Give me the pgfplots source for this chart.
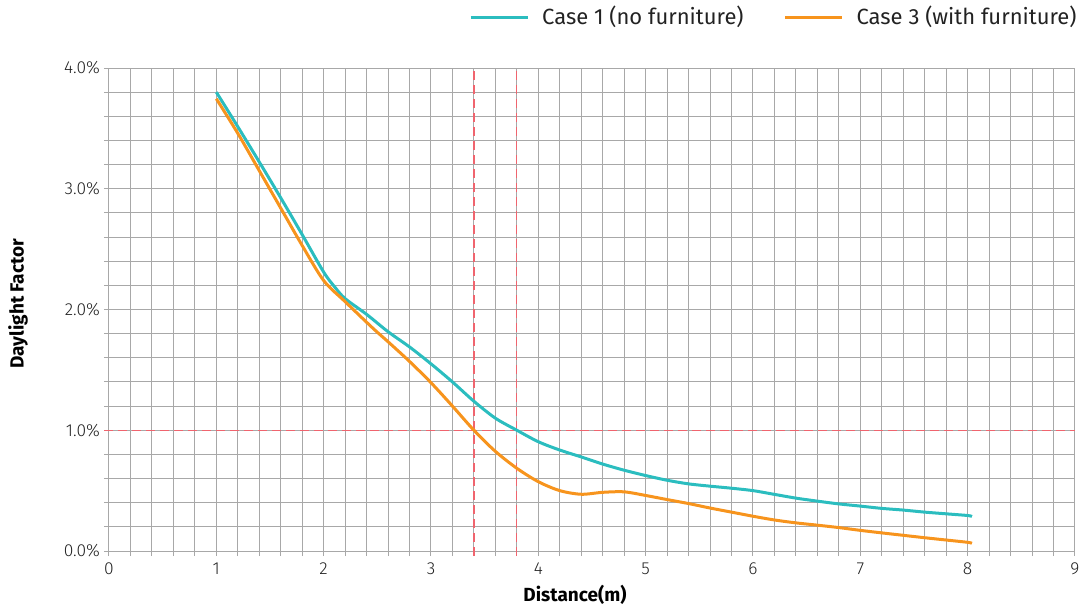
\documentclass[border=0pt]{standalone}
\usepackage{pgfplots}
\pgfplotsset{compat=1.18}
\usepackage{fontspec}
\setmainfont{Fira Sans}
\newfontfamily\lightfont{Fira Sans Light}
\definecolor{tealc}{HTML}{2BBDBF}
\definecolor{orngc}{HTML}{F7941D}
\definecolor{gridc}{HTML}{A8A8A8}
\definecolor{refred}{HTML}{F0646E}
\definecolor{txt}{HTML}{222222}

\begin{document}
\begin{tikzpicture}
\path[use as bounding box] (-54.5pt,-28pt) rectangle (490.5pt,275.5pt);
\begin{axis}[
  at={(0,0)}, anchor=south west,
  scale only axis, width=483pt, height=241.5pt,
  xmin=0, xmax=9, ymin=0, ymax=4,
  clip=false,
  xtick={0,1,...,9}, ytick={0,1,2,3,4},
  minor x tick num=4, minor y tick num=4,
  grid=both,
  major grid style={gridc, line width=0.5pt},
  minor grid style={gridc, line width=0.5pt},
  every tick/.style={gridc, line width=0.5pt},
  tick align=outside,
  major tick length=2.5pt, minor tick length=2.5pt,
  xtick pos=left, ytick pos=left,
  axis line style={gridc, line width=0.5pt},
  /pgf/number format/assume math mode=true,
  tick label style={font=\lightfont\fontsize{8.7}{10}\selectfont, text=txt},
  yticklabel style={xshift=1.5pt},
  yticklabel={\pgfmathprintnumber[fixed,fixed zerofill,precision=1]{\tick}\%},
  xlabel={Distance(m)},
  ylabel={Daylight Factor},
  label style={font=\bfseries\fontsize{9.5}{11}\selectfont, text=black},
  xlabel style={at={(axis description cs:0.4824,-0.091)}, anchor=center},
  ylabel style={at={(axis description cs:-0.0942,0.512)}, anchor=center},
  legend columns=2,
  legend style={at={(1,1)}, anchor=east, yshift=25.5pt, xshift=6pt, draw=none, fill=none,
    font=\fontsize{11}{13}\selectfont, text=txt,
    /tikz/every even column/.append style={column sep=18pt}},
  legend cell align=left,
  legend image code/.code={\draw[#1] (0pt,0pt) -- (28.5pt,0pt); \path (33pt,0pt);},
]
\addplot[refred, line width=0.6pt, dash pattern=on 4.5pt off 2.5pt, forget plot] coordinates {(3.4,-0.04) (3.4,4)};
\addplot[refred, line width=0.6pt, dash pattern=on 4.5pt off 2.5pt, forget plot] coordinates {(3.8,-0.04) (3.8,4)};
\addplot[refred, line width=0.6pt, dash pattern=on 4.5pt off 2.5pt, forget plot] coordinates {(-0.045,1) (9,1)};

\addplot[tealc, line width=1.5pt, smooth] coordinates {
(1.0,3.80) (1.2,3.514) (1.4,3.222) (1.6,2.925) (1.8,2.62) (2.0,2.31) (2.1,2.19) (2.2,2.09)
(2.4,1.96) (2.6,1.816) (2.8,1.69) (3.0,1.55) (3.2,1.40) (3.4,1.24) (3.6,1.10)
(3.8,1.0) (4.0,0.905) (4.2,0.836) (4.4,0.779) (4.6,0.72) (4.8,0.669) (5.0,0.625)
(5.2,0.586) (5.4,0.556) (5.6,0.537) (5.8,0.52) (6.0,0.50) (6.2,0.469) (6.4,0.438)
(6.6,0.413) (6.8,0.39) (7.0,0.372) (7.2,0.353) (7.4,0.339) (7.6,0.322) (7.8,0.308)
(8.0,0.294) (8.04,0.286)};
\addlegendentry{Case 1 (no furniture)}

\addplot[orngc, line width=1.5pt, smooth] coordinates {
(1.0,3.745) (1.2,3.459) (1.4,3.15) (1.6,2.84) (1.8,2.53) (2.0,2.24) (2.2,2.065) (2.46,1.844)
(2.6,1.733) (2.8,1.57) (3.0,1.394) (3.2,1.2) (3.4,1.0) (3.6,0.825) (3.8,0.685)
(4.0,0.574) (4.2,0.50) (4.4,0.47) (4.6,0.486) (4.8,0.49) (5.0,0.46) (5.2,0.426)
(5.4,0.393) (5.6,0.356) (5.8,0.322) (6.0,0.288) (6.2,0.257) (6.4,0.233) (6.6,0.214)
(6.8,0.194) (7.0,0.171) (7.2,0.15) (7.4,0.13) (7.6,0.11) (7.8,0.091) (8.0,0.072)
(8.04,0.064)};
\addlegendentry{Case 3 (with furniture)}
\end{axis}
\end{tikzpicture}
\end{document}
